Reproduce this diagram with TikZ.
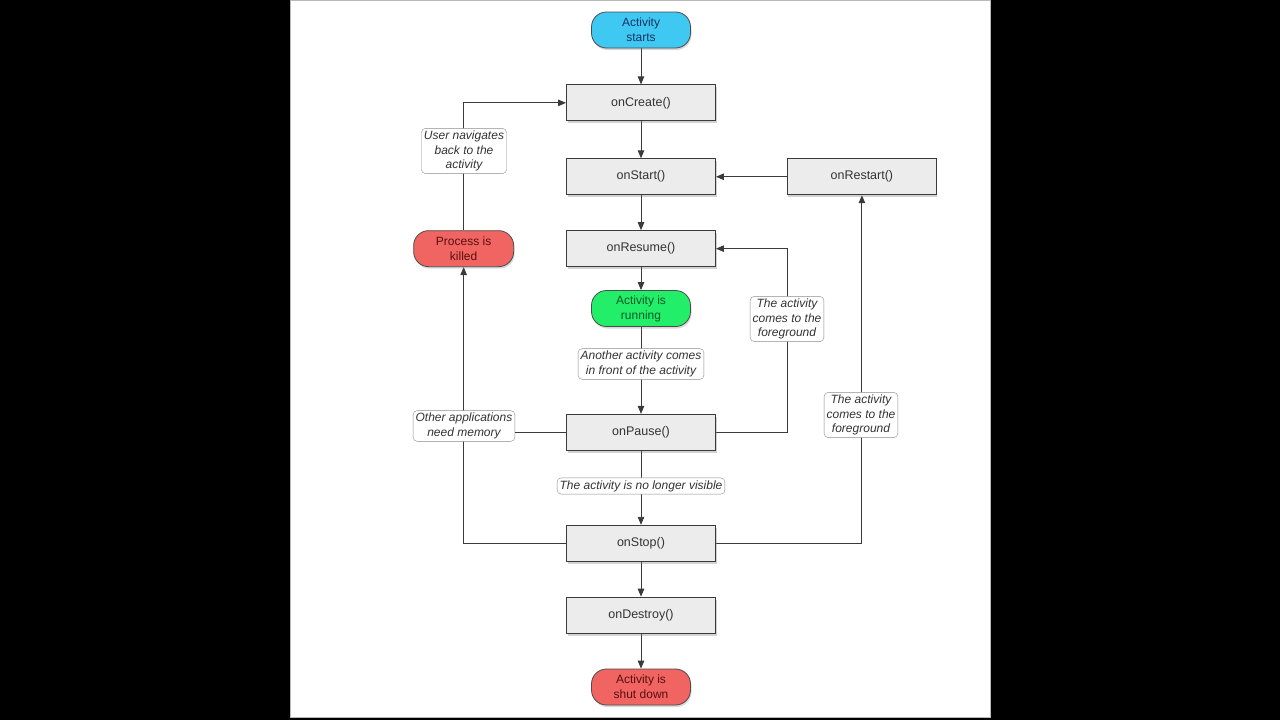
\documentclass[tikz,border=0pt]{standalone}
\usepackage{fontspec}
\setmainfont{Liberation Sans}
\usetikzlibrary{arrows.meta,positioning,shadows,backgrounds}
\definecolor{startblue}{HTML}{3FC9F2}
\definecolor{rungreen}{HTML}{22EE6A}
\definecolor{killred}{HTML}{F06462}
\definecolor{boxgray}{HTML}{ECECEC}
\definecolor{linegray}{HTML}{3A3A3A}

\begin{document}
\begin{tikzpicture}[x=1pt, y=-1pt,
    fn/.style={draw=linegray, fill=boxgray, line width=0.9pt,
               minimum width=149pt, minimum height=36pt,
               font=\fontsize{12.5}{15}\selectfont, text=black!80,
               drop shadow={shadow xshift=1pt, shadow yshift=-2.5pt, opacity=0.35}},
    state/.style={draw=black!70, line width=0.8pt, rounded corners=15pt,
                  minimum width=99pt, minimum height=36pt, inner sep=2pt,
                  font=\fontsize{12}{15}\selectfont, align=center,
                  drop shadow={shadow xshift=1pt, shadow yshift=-2pt, opacity=0.3}},
    note/.style={draw=black!45, fill=white, rounded corners=4pt, inner sep=2.5pt,
                 font=\fontsize{12}{14.5}\selectfont\itshape, text=black!80, align=center},
    arr/.style={-{Triangle[length=8pt, width=6.5pt]}, line width=0.9pt, draw=linegray},
    ln/.style={line width=0.9pt, draw=linegray}
  ]
  \useasboundingbox (0,0) rectangle (1280,720);

  % main column
  \node[state, fill=startblue, text={rgb,255:red,20;green,50;blue,100}] (st) at (641,30) {Activity\\starts};
  \node[fn, below=36pt of st]     (create)  {onCreate()};
  \node[fn, below=37pt of create] (start)   {onStart()};
  \node[fn, below=35pt of start]  (resume)  {onResume()};
  \node[state, fill=rungreen, text={rgb,255:red,10;green,90;blue,35}, below=23pt of resume] (run) {Activity is\\running};
  \node[fn, below=87pt of run]    (pause)   {onPause()};
  \node[fn, below=74pt of pause]  (stop)    {onStop()};
  \node[fn, below=35pt of stop]   (destroy) {onDestroy()};
  \node[state, fill=killred, text={rgb,255:red,90;green,15;blue,15}, below=35pt of destroy] (shut) {Activity is\\shut down};

  % side nodes
  \node[fn, right=71pt of start] (restart) {onRestart()};
  \node[state, fill=killred, text={rgb,255:red,90;green,15;blue,15}, minimum width=100pt, left=52pt of resume] (kill) {Process is\\killed};

  % notes on the connectors
  \node[note] (back)  at (464,151) {User navigates\\back to the\\activity};
  \node[note] (front) at (641,364) {Another activity comes\\in front of the activity};
  \node[note] (other) at (464,426) {Other applications\\need memory};
  \node[note] (hide)  at (641,486) {The activity is no longer visible};
  \node[note] (fg1)   at (787,319) {The activity\\comes to the\\foreground};
  \node[note] (fg2)   at (861,415) {The activity\\comes to the\\foreground};

  \begin{scope}[on background layer]
    \fill[black] (0,0) rectangle (1280,720);
    \draw[fill=white, draw=gray!55] (290.5,0.5) rectangle (990.5,717.5);
    \draw[arr] (st) -- (create);
    \draw[arr] (create) -- (start);
    \draw[arr] (start) -- (resume);
    \draw[arr] (resume) -- (run);
    \draw[arr] (run) -- (pause);
    \draw[arr] (pause) -- (stop);
    \draw[arr] (stop) -- (destroy);
    \draw[arr] (destroy) -- (shut);
    \draw[arr] (restart) -- (start);
    \draw[arr] (pause.east) -- ++(71,0) |- (resume.east);
    \draw[arr] (stop.east) -| (restart.south);
    \draw[ln]  (pause.west) -- (pause.west -| other.east);
    \draw[arr] (stop.west) -| (kill.south);
    \draw[arr] (kill.north) |- (create.west);
  \end{scope}
\end{tikzpicture}
\end{document}
